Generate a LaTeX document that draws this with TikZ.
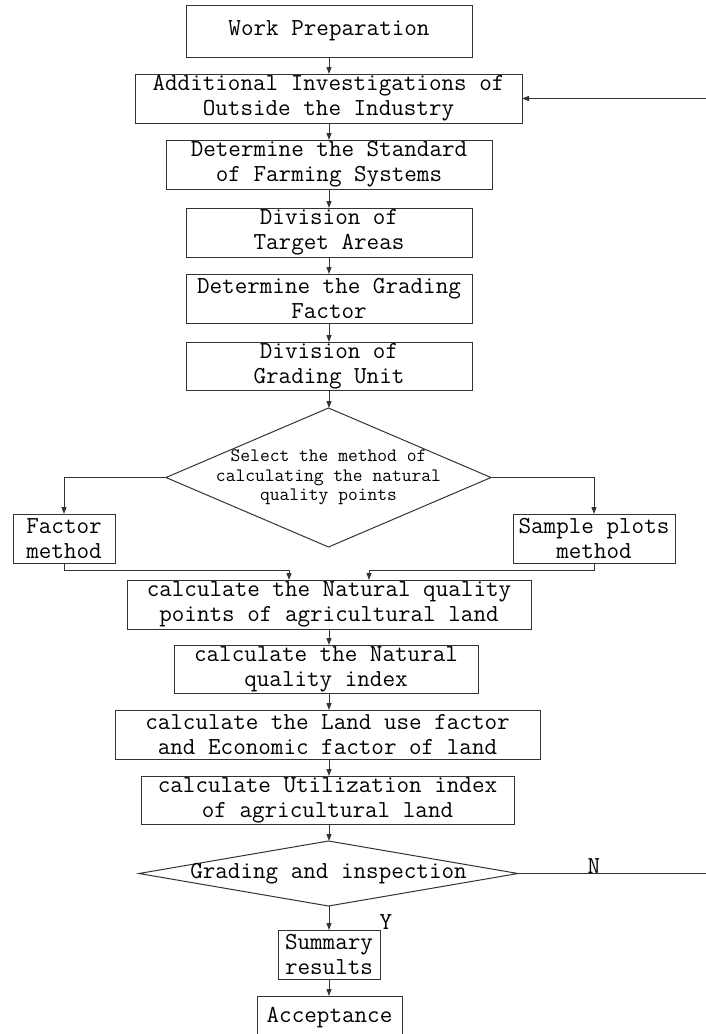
\documentclass[tikz,border=0pt]{standalone}
\usepackage{fontspec}
\usetikzlibrary{arrows.meta,shapes.geometric}
\begin{document}
\begin{tikzpicture}[x=1pt,y=-1pt,
  box/.style={draw=black!80,line width=1pt,inner sep=0pt,outer sep=0pt,align=center,
    font=\ttfamily\fontsize{24.4}{25}\selectfont},
  dia/.style={draw=black!80,line width=1pt,diamond,inner sep=0pt,outer sep=0pt},
  dtext/.style={inner sep=0pt,align=center,font=\ttfamily\fontsize{19}{19.5}\selectfont},
  lbl/.style={inner sep=0pt,font=\ttfamily\fontsize{24.4}{25}\selectfont},
  arr/.style={draw=black!80,line width=1pt,-{Triangle[length=7pt,width=5pt]}},
  ln/.style={draw=black!80,line width=1pt}]
\useasboundingbox (0,0) rectangle (705,1034);

\node[box,minimum width=286pt,minimum height=52pt] (b1) at (329,31) {Work Preparation};
\node[box,minimum width=387pt,minimum height=49pt] (b2) at (328.5,98.5) {Additional Investigations of\\Outside the Industry};
\node[box,minimum width=326pt,minimum height=49pt] (b3) at (329,164.5) {Determine the Standard\\of Farming Systems};
\node[box,minimum width=286pt,minimum height=49pt] (b4) at (329,232.5) {Division of\\Target Areas};
\node[box,minimum width=286pt,minimum height=49pt] (b5) at (329,298.5) {Determine the Grading\\Factor};
\node[box,minimum width=286pt,minimum height=48pt] (b6) at (329,366) {Division of\\Grading Unit};
\node[dia,minimum width=325pt,minimum height=139pt] (d1) at (328.5,477.5) {};
\node[dtext] (d1t) at (d1.center) {Select the method of\\calculating the natural\\quality points};
\node[box,minimum width=102pt,minimum height=49pt] (f) at (64,538.5) {Factor\\method};
\node[box,minimum width=162pt,minimum height=49pt] (s) at (594,538.5) {Sample plots\\method};
\node[box,minimum width=404pt,minimum height=49pt] (c1) at (329,604.5) {calculate the Natural quality\\points of agricultural land};
\node[box,minimum width=304pt,minimum height=48pt] (c2) at (326,669) {calculate the Natural\\quality index};
\node[box,minimum width=425pt,minimum height=49pt] (c3) at (327.5,734.5) {calculate the Land use factor\\and Economic factor of land};
\node[box,minimum width=373pt,minimum height=48pt] (c4) at (327.5,800) {calculate Utilization index\\of agricultural land};
\node[dia,minimum width=379pt,minimum height=65pt] (d2) at (328.5,873.5) {};
\node[lbl] (d2t) at (d2.center) {Grading and inspection};
\node[box,minimum width=102pt,minimum height=49pt] (sr) at (329,954.5) {Summary\\results};
\node[box,minimum width=145pt,minimum height=44pt] (acc) at (329.5,1018) {Acceptance};

\node[lbl] (ylab) at (386,922) {Y};
\node[lbl] (nlab) at (594,866) {N};

\coordinate (x0) at (329,0);
\draw[arr] (x0 |- b1.south) -- (x0 |- b2.north);
\draw[arr] (x0 |- b2.south) -- (x0 |- b3.north);
\draw[arr] (x0 |- b3.south) -- (x0 |- b4.north);
\draw[arr] (x0 |- b4.south) -- (x0 |- b5.north);
\draw[arr] (x0 |- b5.south) -- (x0 |- b6.north);
\draw[arr] (x0 |- b6.south) -- (x0 |- d1.north);
\draw[arr] (d1.west) -| (f.north);
\draw[arr] (d1.east) -| (s.north);
\coordinate (fm) at (289,570);
\coordinate (sm) at (369,570);
\draw[arr] (f.south) |- (fm) -- (fm |- c1.north);
\draw[arr] (s.south) |- (sm) -- (sm |- c1.north);
\draw[arr] (x0 |- c1.south) -- (x0 |- c2.north);
\draw[arr] (x0 |- c2.south) -- (x0 |- c3.north);
\draw[arr] (x0 |- c3.south) -- (x0 |- c4.north);
\draw[arr] (x0 |- c4.south) -- (x0 |- d2.north);
\draw[arr] (x0 |- d2.south) -- (x0 |- sr.north);
\draw[arr] (x0 |- sr.south) -- (x0 |- acc.north);
\coordinate (fb) at (715,873.5);
\draw[arr] (d2.east) -- (fb) |- (b2.east);
\end{tikzpicture}
\end{document}
